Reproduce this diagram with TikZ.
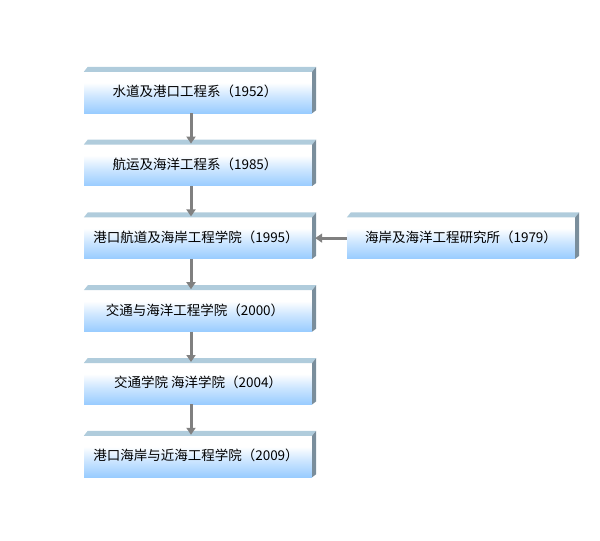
\documentclass[tikz,border=0pt]{standalone}
\usepackage{fontspec}
\newfontfamily\cjk{Noto Sans CJK SC}
\usetikzlibrary{positioning,arrows.meta,calc}
\definecolor{boxblue}{RGB}{153,204,255}
\definecolor{topface}{RGB}{176,204,220}
\definecolor{sideface}{RGB}{122,142,156}
\definecolor{linkgray}{RGB}{128,128,128}
\pgfdeclareverticalshading{boxshade}{100bp}{color(0bp)=(boxblue); color(25bp)=(boxblue); color(45bp)=(boxblue!50); color(62bp)=(white); color(100bp)=(white)}

\begin{document}
\begin{tikzpicture}[x=1pt, y=-1pt,
    stage/.style={rectangle, shading=boxshade, minimum width=228pt, minimum height=41pt, inner sep=0pt, font=\cjk\fontsize{13.5}{15}\selectfont},
    link/.style={draw=linkgray, line width=3pt, -{Triangle[width=9pt,length=7pt]}}
]
\useasboundingbox (0,0) rectangle (600,541);

% History of the school
\node[stage] (s1) at (198,92.5) {\raisebox{3pt}{水道及港口工程系（1952）\hspace{6pt}}};
\node[stage] (s2) at (198,165.3) {\raisebox{3pt}{航运及海洋工程系（1985）\hspace{6pt}}};
\node[stage] (s3) at (198,238.1) {\raisebox{3pt}{港口航道及海岸工程学院（1995）\hspace{4pt}}};
\node[stage] (s4) at (198,310.9) {\raisebox{3pt}{交通与海洋工程学院（2000）\hspace{6pt}}};
\node[stage] (s5) at (198,383.7) {\raisebox{3pt}{交通学院 海洋学院（2004）}};
\node[stage] (s6) at (198,456.5) {\raisebox{3pt}{港口海岸与近海工程学院（2009）\hspace{4pt}}};

% Merged institute
\node[stage] (inst) at (461,238.1) {\raisebox{3pt}{海岸及海洋工程研究所（1979）}};

% 3D top and side faces
\foreach \n in {s1,s2,s3,s4,s5,s6,inst} {
    \fill[topface] (\n.north west) -- ++(4,-5) -- ($(\n.north east)+(4,-5)$) -- (\n.north east) -- cycle;
    \fill[sideface] (\n.north east) -- ++(4,-5) -- ($(\n.south east)+(4,-3)$) -- (\n.south east) -- cycle;
}

% Links
\foreach \a/\b in {s1/s2, s2/s3, s3/s4, s4/s5, s5/s6}
    \draw[link] ([xshift=-7pt]\a.south) -- ([xshift=-7pt, yshift=1pt]\b.north);
\draw[link] (inst.west) -- ([xshift=3pt]s3.east);

\end{tikzpicture}
\end{document}
